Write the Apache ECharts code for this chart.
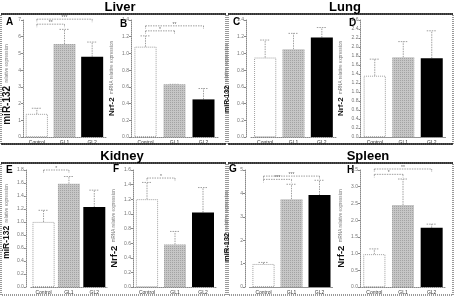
<!DOCTYPE html>
<html>
<head>
<meta charset="utf-8">
<script src="https://cdn.jsdelivr.net/npm/echarts@6/dist/echarts.min.js"></script>
<style>
  html, body { margin: 0; padding: 0; background: #fff; }
  #chart { width: 455px; height: 297px; }
</style>
</head>
<body>
<div id="chart"></div>
<script>
// data
var categories = ['Control', 'GL1', 'GL2'];

var liverMir = [1.38, 5.56, 4.80];
var liverMirErr = [0.34, 0.88, 0.88];
var liverMirSig = [[0, 2, 7.05, '***'], [0, 1, 6.75, '**']];

var liverNrf = [1.08, 0.63, 0.45];
var liverNrfErr = [0.13, 0.0, 0.13];
var liverNrfSig = [[0, 2, 1.33, '**'], [0, 1, 1.27, '*']];

var lungMir = [0.95, 1.05, 1.19];
var lungMirErr = [0.21, 0.19, 0.12];

var lungNrf = [1.36, 1.77, 1.75];
var lungNrfErr = [0.37, 0.35, 0.61];

var kidneyMir = [1.0, 1.59, 1.23];
var kidneyMirErr = [0.18, 0.11, 0.26];
var kidneyMirSig = [[0, 1, 1.8, '*']];

var kidneyNrf = [1.20, 0.58, 1.02];
var kidneyNrfErr = [0.23, 0.18, 0.34];
var kidneyNrfSig = [[0, 1, 1.49, '*']];

var spleenMir = [0.98, 3.75, 3.93];
var spleenMirErr = [0.07, 0.64, 0.63];
var spleenMirSig = [[0, 2, 4.74, '***'], [0, 1, 4.6, '***']];

var spleenNrf = [0.98, 2.45, 1.77];
var spleenNrfErr = [0.16, 0.78, 0.11];
var spleenNrfSig = [[0, 2, 3.53, '**'], [0, 1, 3.37, '*']];

var mirName = '{b|miR-132} {s|relative expression}';
var nrfName = '{b|Nrf-2} {s|mRNA relative expression}';

var panels = [
    { letter: 'A', name: mirName, values: liverMir, errors: liverMirErr, sig: liverMirSig, max: 7, interval: 1,
      grid: { left: 19, top: 20, width: 87, height: 117 }, offset: 0, gap: 10, fs: 10, shift: 12, lx: 6, ly: 17 },
    { letter: 'B', name: nrfName, values: liverNrf, errors: liverNrfErr, sig: liverNrfSig, max: 1.4, interval: 0.2,
      grid: { left: 131, top: 20, width: 87, height: 117 }, offset: 0, gap: 10, fs: 8, shift: 0, lx: 120, ly: 19 },
    { letter: 'C', name: mirName, values: lungMir, errors: lungMirErr, sig: [], max: 1.4, interval: 0.2,
      grid: { left: 251, top: 20, width: 85, height: 117 }, offset: 5, gap: 11, fs: 7, shift: 0, lx: 233, ly: 17 },
    { letter: 'D', name: nrfName, values: lungNrf, errors: lungNrfErr, sig: [], max: 2.6, interval: 0.2,
      grid: { left: 360.5, top: 20, width: 85.5, height: 117 }, offset: 0, gap: 14, fs: 8, shift: 0, lx: 349, ly: 18 },
    { letter: 'E', name: mirName, values: kidneyMir, errors: kidneyMirErr, sig: kidneyMirSig, max: 1.8, interval: 0.2,
      grid: { left: 24, top: 170, width: 83, height: 117 }, offset: 5, gap: 11, fs: 8.5, shift: -14, lx: 6, ly: 165 },
    { letter: 'F', name: nrfName, values: kidneyNrf, errors: kidneyNrfErr, sig: kidneyNrfSig, max: 1.6, interval: 0.2,
      grid: { left: 133, top: 170, width: 84, height: 117 }, offset: 0, gap: 12, fs: 9.5, shift: 0, lx: 113, ly: 164 },
    { letter: 'G', name: mirName, values: spleenMir, errors: spleenMirErr, sig: spleenMirSig, max: 5, interval: 1,
      grid: { left: 249.5, top: 170, width: 84, height: 117 }, offset: 4.5, gap: 12, fs: 7.5, shift: -4, lx: 229, ly: 164 },
    { letter: 'H', name: nrfName, values: spleenNrf, errors: spleenNrfErr, sig: spleenNrfSig, max: 3.5, interval: 0.5,
      grid: { left: 360, top: 170, width: 86, height: 117 }, offset: 0, gap: 13, fs: 9.5, shift: 0, lx: 347, ly: 165 }
];

var barColors = ['#ffffff', '#c6c6c6', '#000000'];

var grids = [], xAxes = [], yAxes = [], series = [], graphics = [];

panels.forEach(function (p, i) {
    grids.push(p.grid);
    xAxes.push({
        type: 'category',
        gridIndex: i,
        data: categories,
        axisLine: { lineStyle: { color: '#888', type: [1, 1] } },
        axisTick: { show: false },
        axisLabel: { fontSize: 5, color: '#333', margin: 3, fontFamily: 'Liberation Sans' }
    });
    // positive shift moves the rotated name down, negative moves it up
    var pad = p.shift >= 0 ? [0, p.shift, 0, 0] : [0, 0, 0, -p.shift];
    yAxes.push({
        type: 'value',
        gridIndex: i,
        min: 0,
        max: p.max,
        interval: p.interval,
        offset: p.offset,
        name: p.name,
        nameLocation: 'middle',
        nameGap: p.gap,
        nameTextStyle: {
            fontFamily: 'Liberation Sans',
            padding: pad,
            rich: {
                b: { fontSize: p.fs, fontWeight: 'bold', color: '#111', fontFamily: 'Liberation Sans' },
                s: { fontSize: 4.6, color: '#777', fontFamily: 'Liberation Sans' }
            }
        },
        splitLine: { show: false },
        axisLine: { show: true, lineStyle: { color: '#888', type: [1, 1] } },
        axisTick: { show: true, length: 2, lineStyle: { color: '#888' } },
        axisLabel: {
            show: true, fontSize: 5, color: '#777', margin: 2, fontFamily: 'Liberation Sans',
            formatter: function (v) { return p.interval < 1 ? v.toFixed(1) : String(v); }
        }
    });
    series.push({
        type: 'bar',
        xAxisIndex: i,
        yAxisIndex: i,
        barWidth: 22,
        data: p.values.map(function (v, k) {
            var st = { color: barColors[k] };
            if (k === 0) { st.borderColor = '#888'; st.borderWidth = 0.8; st.borderType = [1, 1]; }
            if (k === 1) {
                st.decal = { symbol: 'rect', symbolSize: 1, dashArrayX: [1, 1], dashArrayY: [1, 1], color: 'rgba(110,110,110,0.4)' };
            }
            return { value: v, itemStyle: st };
        }),
        z: 2
    });
    // error bars
    series.push({
        type: 'custom',
        xAxisIndex: i,
        yAxisIndex: i,
        z: 1,
        data: p.values.map(function (v, k) { return [k, v, v + p.errors[k]]; }),
        renderItem: function (params, api) {
            var lo = api.coord([api.value(0), api.value(1)]);
            var hi = api.coord([api.value(0), api.value(2)]);
            var style = { stroke: '#888', lineWidth: 0.8, lineDash: [1.5, 1] };
            return {
                type: 'group',
                children: [
                    { type: 'line', shape: { x1: lo[0], y1: lo[1], x2: hi[0], y2: hi[1] }, style: style },
                    { type: 'line', shape: { x1: hi[0] - 5, y1: hi[1], x2: hi[0] + 5, y2: hi[1] }, style: style }
                ]
            };
        }
    });
    // significance brackets
    if (p.sig.length) {
        series.push({
            type: 'custom',
            xAxisIndex: i,
            yAxisIndex: i,
            clip: false,
            z: 3,
            data: p.sig.map(function (s) { return [s[0], s[1], s[2]]; }),
            renderItem: function (params, api) {
                var a = api.coord([api.value(0), api.value(2)]);
                var b = api.coord([api.value(1), api.value(2)]);
                var style = { stroke: '#888', lineWidth: 0.8, lineDash: [1.5, 1] };
                return {
                    type: 'group',
                    children: [
                        { type: 'line', shape: { x1: a[0], y1: a[1], x2: b[0], y2: b[1] }, style: style },
                        { type: 'line', shape: { x1: a[0], y1: a[1], x2: a[0], y2: a[1] + 3 }, style: style },
                        { type: 'line', shape: { x1: b[0], y1: b[1], x2: b[0], y2: b[1] + 3 }, style: style },
                        { type: 'text', x: (a[0] + b[0]) / 2, y: a[1] + 1,
                          style: { text: p.sig[params.dataIndex][3], fontSize: 5, fill: '#666',
                                   align: 'center', verticalAlign: 'bottom', fontFamily: 'Liberation Sans' } }
                    ]
                };
            }
        });
    }
    graphics.push({
        type: 'text', left: p.lx, top: p.ly,
        style: { text: p.letter, fontSize: 10, fontWeight: 'bold', fill: '#000', fontFamily: 'Liberation Sans' }
    });
});

// frames and organ titles
var boxes = [[1, 14, 225, 130], [228, 14, 225, 130], [1, 163, 225, 132], [228, 163, 225, 132]];
boxes.forEach(function (b, j) {
    graphics.push({
        type: 'rect', shape: { x: b[0], y: b[1], width: b[2], height: b[3] },
        style: { fill: 'none', stroke: '#999', lineWidth: 2, lineDash: [1, 1] }, z: -1
    });
    graphics.push({
        type: 'line', shape: { x1: b[0], y1: b[1], x2: b[0] + b[2], y2: b[1] },
        style: { stroke: '#111', lineWidth: 1.5 }, z: -1
    });
    if (j < 2) {
        graphics.push({
            type: 'line', shape: { x1: b[0], y1: b[1] + b[3], x2: b[0] + b[2], y2: b[1] + b[3] },
            style: { stroke: '#111', lineWidth: 1.5 }, z: -1
        });
    }
});
var titles = [['Liver', 120, 7], ['Lung', 345, 7], ['Kidney', 122, 156], ['Spleen', 368, 156]];
titles.forEach(function (t) {
    graphics.push({
        type: 'text', x: t[1], y: t[2],
        style: { text: t[0], fontSize: 13, fontWeight: 'bold', fill: '#000', align: 'center',
                 verticalAlign: 'middle', fontFamily: 'Liberation Sans' }
    });
});

var chart = echarts.init(document.getElementById('chart'));
chart.setOption({
    animation: false,
    grid: grids,
    xAxis: xAxes,
    yAxis: yAxes,
    series: series,
    graphic: graphics
});
</script>
</body>
</html>
